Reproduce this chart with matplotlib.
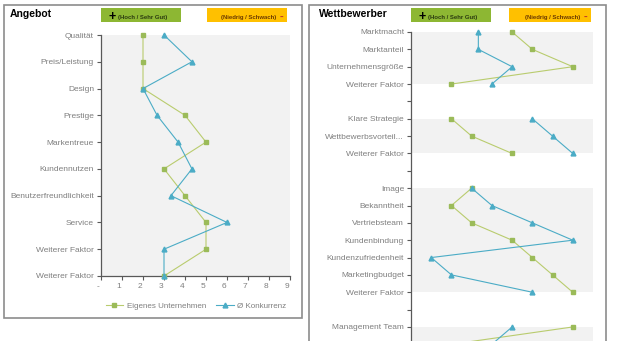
import numpy as np
import matplotlib.pyplot as plt
from matplotlib.patches import Rectangle
from matplotlib.transforms import ScaledTranslation

plt.rcParams['font.family'] = ['Liberation Sans', 'DejaVu Sans']

# Angebot (left panel)
left_cats = ['Qualität', 'Preis/Leistung', 'Design', 'Prestige', 'Markentreue',
             'Kundennutzen', 'Benutzerfreundlichkeit', 'Service',
             'Weiterer Faktor', 'Weiterer Faktor']
left_own = [2, 2, 2, 4, 5, 3, 4, 5, 5, 3]
left_comp = [3, 4.33, 2, 2.67, 3.67, 4.33, 3.33, 6, 3, 3]

# Wettbewerber (right panel, cut off at the bottom; last category is off-screen)
nan = np.nan
right_cats = ['Marktmacht', 'Marktanteil', 'Unternehmensgröße', 'Weiterer Faktor', '',
              'Klare Strategie', 'Wettbewerbsvorteil...', 'Weiterer Faktor', '',
              'Image', 'Bekanntheit', 'Vertriebsteam', 'Kundenbindung',
              'Kundenzufriedenheit', 'Marketingbudget', 'Weiterer Faktor', '',
              'Management Team', '']
right_own = [5, 6, 8, 2, nan, 2, 3, 5, nan, 3, 2, 3, 5, 6, 7, 8, nan, 8, 2]
right_comp = [3.33, 3.33, 5, 4, nan, 6, 7, 8, nan, 3, 4, 6, 8, 1, 2, 6, nan, 5, 4]
right_groups = [(0, 3), (5, 7), (9, 15), (17, 19)]

x_labels = ['-', '1', '2', '3', '4', '5', '6', '7', '8', '9']

W, H = 635, 341
GREEN_LINE = '#B9CC6E'
GREEN_MK = '#9BBB59'
BLUE = '#4BACC6'
GRAY_TXT = '#7F7F7F'
BAND = '#F2F2F2'


def fx(x):
    return x / W


def fy(y):
    return 1 - y / H


def axes_px(x0, y0, x1, y1):
    return [fx(x0), fy(y1), fx(x1) - fx(x0), fy(y0) - fy(y1)]


fig = plt.figure(figsize=(W / 100, H / 100), dpi=100)

# panel frames
fig.patches.append(Rectangle((fx(4), fy(318)), fx(302) - fx(4), fy(5) - fy(318),
                             transform=fig.transFigure, fill=False,
                             edgecolor='#8C8C8C', lw=1.2))
fig.patches.append(Rectangle((fx(309), fy(360)), fx(606) - fx(309), fy(5) - fy(360),
                             transform=fig.transFigure, fill=False,
                             edgecolor='#8C8C8C', lw=1.2))


def header(x_left, title, gx0, gx1, ox0, ox1):
    fig.text(fx(x_left), fy(14), title, fontsize=7.5, fontweight='bold',
             va='center', ha='left')
    fig.patches.append(Rectangle((fx(gx0), fy(22)), fx(gx1) - fx(gx0), fy(8) - fy(22),
                                 transform=fig.transFigure, color='#8DB733', lw=0))
    fig.patches.append(Rectangle((fx(ox0), fy(22)), fx(ox1) - fx(ox0), fy(8) - fy(22),
                                 transform=fig.transFigure, color='#FFC000', lw=0))
    fig.text(fx(gx0 + 11), fy(17), '+', fontsize=9, fontweight='bold',
             ha='center', va='center')
    fig.text(fx(gx0 + 17), fy(18), '(Hoch / Sehr Gut)', fontsize=4.3,
             fontweight='bold', ha='left', va='center', color='#2B3A10')
    fig.text(fx(ox1 - 11), fy(18), '(Niedrig / Schwach)', fontsize=4.3,
             fontweight='bold', ha='right', va='center', color='#6B3A00')
    fig.text(fx(ox1 - 6), fy(17), '-', fontsize=8, fontweight='bold',
             ha='center', va='center', color='#C0392B')


header(10, 'Angebot', 101, 181, 207, 287)
header(319, 'Wettbewerber', 411, 491, 509, 591)


def style_axes(ax):
    for s in ['top', 'right']:
        ax.spines[s].set_visible(False)
    for s in ['left', 'bottom']:
        ax.spines[s].set_color('#595959')
        ax.spines[s].set_linewidth(0.9)
    ax.tick_params(axis='both', length=3, width=0.8, color='#595959',
                   labelsize=6.0, labelcolor=GRAY_TXT, pad=2)
    ax.set_xlim(0, 9)
    ax.set_xticks(range(10))
    ax.set_xticklabels(x_labels)
    shift = ScaledTranslation(-3 / 100, 0, fig.dpi_scale_trans)
    for lbl in ax.get_xticklabels():
        lbl.set_transform(lbl.get_transform() + shift)


def draw_series(ax, own, comp, ypos):
    ax.plot(own, ypos, color=GREEN_LINE, lw=0.8, marker='s', markersize=3.2,
            markerfacecolor=GREEN_MK, markeredgecolor=GREEN_MK,
            clip_on=False, zorder=3, label='Eigenes Unternehmen')
    ax.plot(comp, ypos, color=BLUE, lw=0.8, marker='^', markersize=3.5,
            markerfacecolor=BLUE, markeredgecolor=BLUE,
            clip_on=False, zorder=4, label='Ø Konkurrenz')


# left chart
ax1 = fig.add_axes(axes_px(101, 35, 290, 276))
ax1.set_facecolor(BAND)
ly = np.arange(len(left_cats))
draw_series(ax1, left_own, left_comp, ly)
ax1.set_ylim(len(left_cats) - 1, 0)
ax1.set_yticks(ly)
ax1.set_yticklabels(left_cats)
style_axes(ax1)

fig.legend(*ax1.get_legend_handles_labels(), loc='center',
           bbox_to_anchor=(fx(196), fy(306)), ncol=2, frameon=False,
           fontsize=5.8, labelcolor=GRAY_TXT, handlelength=2.2,
           columnspacing=1.3, handletextpad=0.4)

# right chart, extends below the visible area
n = len(right_cats)
ax2 = fig.add_axes(axes_px(411, 32, 593, 32 + (n - 1) * 17.35))
ax2.set_facecolor('white')
for g0, g1 in right_groups:
    ax2.axhspan(g0, g1, color=BAND, lw=0, zorder=0)
ry = np.arange(n)
draw_series(ax2, right_own, right_comp, ry)
ax2.set_ylim(n - 1, 0)
ax2.set_yticks(ry)
ax2.set_yticklabels(right_cats)
style_axes(ax2)
ax2.tick_params(axis='x', labelbottom=False)

fig.savefig('out.png', dpi=100)
